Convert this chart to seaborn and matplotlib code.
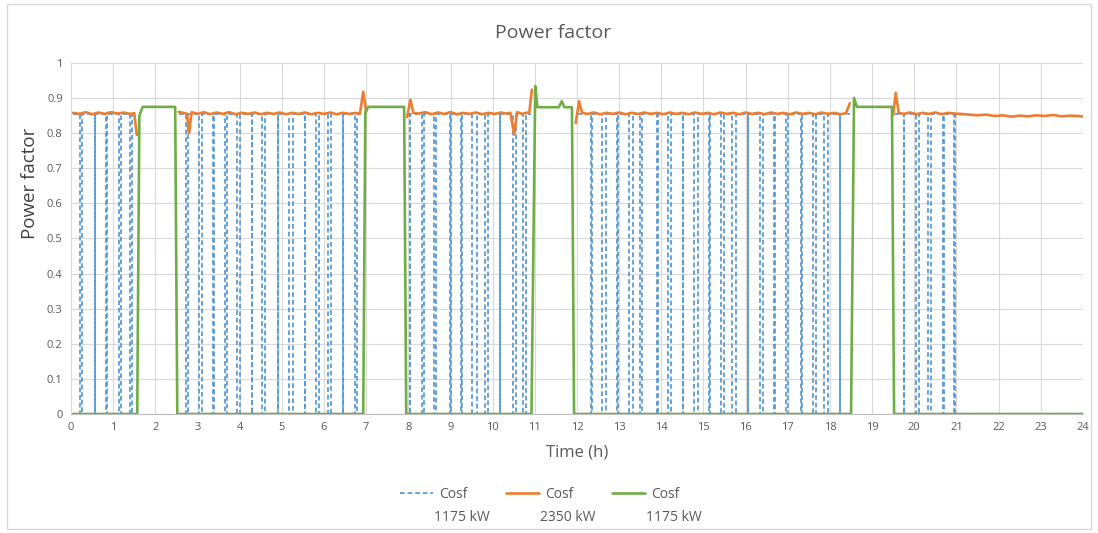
import numpy as np
import pandas as pd
import matplotlib
matplotlib.use("Agg")
import matplotlib.pyplot as plt
import seaborn as sns
from matplotlib.lines import Line2D
from matplotlib.patches import Rectangle

# excel default colours
BLUE = "#5B9BD5"
ORANGE = "#ED7D31"
GREEN = "#70AD47"
GREY = "#595959"

legend_top = ["Cosf", "Cosf", "Cosf"]
legend_bottom = ["1175 kW", "2350 kW", "1175 kW"]

# --- unit 1 (1175 kW, blue dashed): running periods + moments it drops to 0 ---
blue_level = 0.855
blue_run_start = [0.05, 2.55, 8.0, 12.0, 19.55]
blue_run_end = [1.55, 6.92, 10.9, 18.47, 21.0]
blue_down = [0.21, 0.57, 0.84, 1.13, 1.39,
             2.73, 3.04, 3.37, 3.65, 3.94, 4.29, 4.54, 4.91, 5.18, 5.54, 5.81, 6.10, 6.44, 6.73,
             8.04, 8.33, 8.61, 8.99, 9.26, 9.52, 9.81, 10.17, 10.49, 10.73,
             12.34, 12.60, 12.96, 13.24, 13.50, 13.90, 14.15, 14.51, 14.78, 15.14,
             15.42, 15.68, 16.05, 16.33, 16.68, 16.96, 17.32, 17.59, 17.87, 18.23,
             19.75, 20.03, 20.33, 20.69, 20.94]
blue_up = [0.26, 0.58, 0.85, 1.19, 1.45,
           2.78, 3.10, 3.38, 3.71, 4.00, 4.30, 4.61, 4.92, 5.26, 5.55, 5.87, 6.16, 6.45, 6.79,
           8.05, 8.37, 8.65, 9.00, 9.27, 9.62, 9.89, 10.18, 10.55, 10.78,
           12.35, 12.68, 12.97, 13.32, 13.54, 13.91, 14.23, 14.52, 14.88, 15.15,
           15.49, 15.77, 16.06, 16.41, 16.69, 17.00, 17.33, 17.67, 17.95, 18.24,
           19.76, 20.12, 20.40, 20.70, 20.97]

# --- unit 2 (2350 kW, orange), nan = not running ---
orange_t = [0.05, 0.2, 0.35, 0.5, 0.65, 0.8, 0.95, 1.1, 1.25, 1.4, 1.5, 1.56, np.nan,
            2.55, 2.7, 2.75, 2.80, 2.86, 3.0, 3.15, 3.3, 3.45, 3.6, 3.75, 3.9, 4.05, 4.2, 4.35, 4.5,
            4.65, 4.8, 4.95, 5.1, 5.25, 5.4, 5.55, 5.7, 5.85, 6.0, 6.15, 6.3, 6.45, 6.6, 6.75, 6.85,
            6.93, 7.0, np.nan,
            7.97, 8.05, 8.12, 8.25, 8.4, 8.55, 8.7, 8.85, 9.0, 9.15, 9.3, 9.45, 9.6, 9.75, 9.9,
            10.05, 10.2, 10.3, 10.42, 10.51, 10.58, 10.7, 10.8, 10.87, 10.93, np.nan,
            11.97, 12.05, 12.12, 12.25, 12.4, 12.55, 12.7, 12.85, 13.0, 13.15, 13.3, 13.45, 13.6,
            13.75, 13.9, 14.05, 14.2, 14.35, 14.5, 14.65, 14.8, 14.95, 15.1, 15.25, 15.4, 15.55,
            15.7, 15.85, 16.0, 16.15, 16.3, 16.45, 16.6, 16.75, 16.9, 17.05, 17.2, 17.35, 17.5,
            17.65, 17.8, 17.95, 18.1, 18.25, 18.38, 18.47, np.nan,
            19.5, 19.56, 19.63, 19.75, 19.9, 20.05, 20.2, 20.35, 20.5, 20.65, 20.8, 20.95, 21.1,
            21.3, 21.5, 21.7, 21.9, 22.1, 22.3, 22.5, 22.7, 22.9, 23.1, 23.3, 23.5, 23.7, 23.9, 24.0]
orange_v = [0.858, 0.855, 0.860, 0.854, 0.859, 0.855, 0.860, 0.856, 0.859, 0.855, 0.857, 0.795, np.nan,
            0.861, 0.857, 0.855, 0.800, 0.860, 0.855, 0.860, 0.854, 0.859, 0.855, 0.860, 0.854, 0.858,
            0.855, 0.859, 0.854, 0.858, 0.855, 0.859, 0.854, 0.858, 0.855, 0.859, 0.854, 0.858, 0.855,
            0.859, 0.854, 0.858, 0.855, 0.858, 0.855,
            0.918, 0.861, np.nan,
            0.846, 0.895, 0.858, 0.856, 0.860, 0.854, 0.859, 0.855, 0.860, 0.854, 0.858, 0.855, 0.859,
            0.854, 0.858, 0.855, 0.859, 0.856, 0.858, 0.796, 0.860, 0.855, 0.858, 0.860, 0.924, np.nan,
            0.829, 0.891, 0.858, 0.855, 0.859, 0.854, 0.858, 0.855, 0.859, 0.854, 0.858, 0.855, 0.859,
            0.855, 0.858, 0.854, 0.859, 0.855, 0.858, 0.854, 0.859, 0.855, 0.858, 0.854, 0.859, 0.855,
            0.858, 0.854, 0.859, 0.855, 0.858, 0.854, 0.859, 0.855, 0.858, 0.854, 0.859, 0.855, 0.858,
            0.854, 0.859, 0.855, 0.858, 0.854, 0.857, 0.885, np.nan,
            0.852, 0.915, 0.858, 0.855, 0.859, 0.854, 0.858, 0.855, 0.859, 0.854, 0.858, 0.856, 0.855,
            0.853, 0.851, 0.853, 0.849, 0.851, 0.847, 0.850, 0.848, 0.851, 0.849, 0.852, 0.848, 0.850,
            0.849, 0.847]

# --- unit 3 (1175 kW, green) ---
green_t = [0.05, 1.57, 1.62, 1.70, 2.47, 2.52, 6.93, 6.98, 7.05, 7.90, 7.95, 10.92, 11.01, 11.06,
           11.57, 11.64, 11.70, 11.88, 11.93, 18.50, 18.57, 18.64, 19.47, 19.52, 24.0]
green_v = [0, 0, 0.85, 0.875, 0.875, 0, 0, 0.86, 0.875, 0.875, 0, 0, 0.934, 0.874,
           0.874, 0.891, 0.874, 0.874, 0, 0, 0.90, 0.875, 0.875, 0, 0]

# build blue line: flat at blue_level, vertical drops to 0
rows = []
for seg, (s, e) in enumerate(zip(blue_run_start, blue_run_end)):
    rows.append((seg, s, blue_level))
    for d, u in zip(blue_down, blue_up):
        if s < d < e:
            rows += [(seg, d, blue_level), (seg, d, 0), (seg, u, 0), (seg, u, blue_level)]
    rows.append((seg, e, blue_level))
df_blue = pd.DataFrame(rows, columns=["seg", "t", "pf"])

df_orange = pd.DataFrame({"t": orange_t, "pf": orange_v})
df_orange["seg"] = df_orange["t"].isna().cumsum()
df_orange = df_orange.dropna()

df_green = pd.DataFrame({"t": green_t, "pf": green_v})

sns.set_style("white")
plt.rcParams["font.family"] = ["Open Sans", "DejaVu Sans"]

fig = plt.figure(figsize=(10.98, 5.33), dpi=100)
ax = fig.add_axes([0.0647, 0.2233, 0.9216, 0.6585])

dash = (0, (2.6, 1.6))
sns.lineplot(data=df_blue, x="t", y="pf", units="seg", estimator=None, sort=False,
             color=BLUE, lw=1.3, linestyle=dash, ax=ax)
sns.lineplot(data=df_orange, x="t", y="pf", units="seg", estimator=None, sort=False,
             color=ORANGE, lw=1.9, ax=ax)
sns.lineplot(data=df_green, x="t", y="pf", estimator=None, sort=False,
             color=GREEN, lw=1.9, ax=ax)

ax.set_xlim(0, 24)
ax.set_ylim(0, 1)
ax.set_xticks(range(0, 25))
ax.set_yticks(np.arange(0, 1.01, 0.1))
ax.set_yticklabels(["0", "0.1", "0.2", "0.3", "0.4", "0.5", "0.6", "0.7", "0.8", "0.9", "1"])
ax.tick_params(length=0, labelsize=8, colors=GREY, pad=6)
ax.grid(True, color="#D9D9D9", lw=0.8)
for sp in ["top", "right", "left"]:
    ax.spines[sp].set_visible(False)
ax.spines["bottom"].set_color("#BFBFBF")

ax.set_xlabel("Time (h)", fontsize=12, color=GREY, labelpad=8)
ax.set_ylabel("")
fig.text(0.504, 0.938, "Power factor", fontsize=14, color=GREY, ha="center", va="center")
fig.text(0.027, 0.657, "Power factor", fontsize=13.5, color="#404040", rotation=90,
         ha="center", va="center")

handles = [Line2D([], [], color=BLUE, lw=1.3, linestyle=dash),
           Line2D([], [], color=ORANGE, lw=1.9),
           Line2D([], [], color=GREEN, lw=1.9)]
leg = fig.legend(handles, legend_top, loc="center", ncol=3, frameon=False,
                 bbox_to_anchor=(0.4915, 0.073), fontsize=10, handlelength=2.4,
                 columnspacing=2.75, handletextpad=0.45)
for txt in leg.get_texts():
    txt.set_color(GREY)

# second line of each legend label, under the first
fig.canvas.draw()
W, H = fig.bbox.width, fig.bbox.height
for txt, sub in zip(leg.get_texts(), legend_bottom):
    bb = txt.get_window_extent()
    fig.text((bb.x0 - 5) / W, ((bb.y0 + bb.y1) / 2 - 23) / H, sub, fontsize=10, color=GREY,
             ha="left", va="center")

# chart-area border
fig.patches.append(Rectangle((0.006, 0.008), 0.988, 0.984, transform=fig.transFigure,
                             fill=False, ec="#D9D9D9", lw=1))

fig.savefig("out.png", dpi=100)
